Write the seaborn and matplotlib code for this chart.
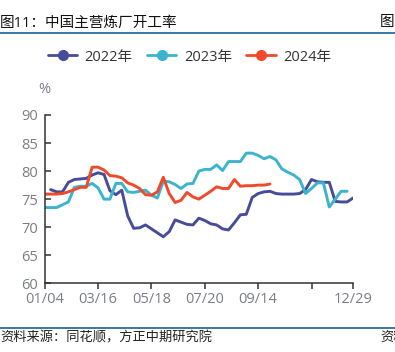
import numpy as np
import pandas as pd
import matplotlib
matplotlib.use("Agg")
import matplotlib.pyplot as plt
from matplotlib.lines import Line2D
import seaborn as sns

# weekly operating rate (%) of China's main refineries
years = ["2022年", "2023年", "2024年"]
colors = ["#474c98", "#3bb4cd", "#f1492b"]

y2022 = [76.7, 76.3, 76.3, 78.0, 78.5, 78.6, 78.7, 79.3, 79.7, 79.4,
         76.5, 75.8, 76.6, 72.0, 69.8, 69.9, 70.4, 69.7, 69.0, 68.3,
         69.2, 71.3, 70.9, 70.5, 70.4, 71.6, 71.2, 70.6, 70.4, 69.7,
         69.5, 70.8, 72.2, 72.3, 75.3, 76.0, 76.3, 76.4, 76.0, 75.9,
         75.9, 75.9, 76.0, 76.7, 78.5, 78.1, 78.0, 78.0, 74.6, 74.5,
         74.5, 75.2]
y2023 = [73.5, 73.5, 73.5, 74.0, 74.5, 77.1, 77.3, 77.3, 77.8, 77.0,
         75.0, 75.0, 77.8, 77.8, 76.3, 76.2, 76.4, 76.6, 75.7, 75.2,
         78.2, 78.1, 77.6, 76.9, 77.7, 77.8, 80.0, 80.3, 80.3, 81.1,
         80.1, 81.7, 81.7, 81.7, 83.2, 83.2, 82.8, 82.2, 82.6, 82.0,
         80.4, 79.8, 79.3, 78.5, 76.0, 76.9, 77.9, 77.9, 73.6, 75.0,
         76.4, 76.4]
y2024 = [75.9, 75.9, 75.9, 76.0, 76.3, 76.7, 77.1, 77.1, 80.7, 80.7,
         80.2, 79.2, 79.1, 78.8, 77.9, 77.5, 76.9, 75.8, 75.7, 76.3,
         78.9, 76.0, 74.4, 74.8, 76.2, 75.4, 75.0, 75.7, 76.4, 77.2,
         76.9, 76.9, 78.5, 77.3, 77.4, 77.4, 77.5, 77.5, 77.7]
start_week = [1, 0, 0]

tick_pos = [0, 9, 18, 27, 36, 45, 52]
tick_labels = ["01/04", "03/16", "05/18", "07/20", "09/14", "", "12/29"]

sns.set_style("ticks")
plt.rcParams["font.family"] = ["Open Sans", "Noto Sans CJK SC", "DejaVu Sans"]

frames = []
for name, vals, s in zip(years, [y2022, y2023, y2024], start_week):
    frames.append(pd.DataFrame({"week": np.arange(s, s + len(vals)),
                                "rate": vals, "year": name}))
df = pd.concat(frames, ignore_index=True)

fig = plt.figure(figsize=(3.95, 3.52), dpi=100)
ax = fig.add_axes([0.1132, 0.1952, 0.7805, 0.4781])

sns.lineplot(data=df, x="week", y="rate", hue="year", palette=colors,
             linewidth=2.1, legend=False, ax=ax)

gray = "#7b7d86"
ax.set_xlim(0, 52)
ax.set_ylim(60, 90)
ax.set_yticks(range(60, 91, 5))
ax.set_xticks(tick_pos)
ax.set_xticklabels(tick_labels)
ax.set_xlabel("")
ax.set_ylabel("")
sns.despine(ax=ax)
for sp in ["left", "bottom"]:
    ax.spines[sp].set_color("#333333")
    ax.spines[sp].set_linewidth(1.1)
ax.tick_params(axis="y", direction="in", length=4, width=1.1, color="#333333",
               labelsize=10.5, labelcolor=gray, pad=5)
ax.tick_params(axis="x", direction="out", length=4, width=1.1, color="#333333",
               labelsize=10.5, labelcolor=gray, pad=2)
ax.text(0, 1.15, "%", transform=ax.transAxes, ha="center", va="center",
        fontsize=10.5, color=gray)

handles = [Line2D([0], [0], color=c, lw=2.0, marker="o", markersize=7)
           for c in colors]
fig.legend(handles, years, loc="center", bbox_to_anchor=(0.48, 0.838), ncol=3,
           frameon=False, fontsize=10.5, handlelength=2.0, handletextpad=0.5,
           columnspacing=1.0, labelcolor="#333333")

# header and footer
fig.text(0.0, 0.935, "图11：中国主营炼厂开工率", ha="left", va="center",
         fontsize=10.5, fontweight="medium", color="#111111")
fig.text(0.962, 0.935, "图", ha="left", va="center", fontsize=10.5,
         fontweight="medium", color="#111111")
fig.add_artist(Line2D([0, 1], [0.906, 0.906], transform=fig.transFigure,
                      color="#1f5f94", lw=1.2))
fig.add_artist(Line2D([0, 1], [0.068, 0.068], transform=fig.transFigure,
                      color="#1f5f94", lw=1.2))
fig.text(0.0, 0.04, "资料来源：同花顺，方正中期研究院", ha="left", va="center",
         fontsize=9.5, color="#222222")
fig.text(0.963, 0.04, "资料", ha="left", va="center", fontsize=9.5,
         color="#222222")

fig.savefig("out.png", dpi=100)
